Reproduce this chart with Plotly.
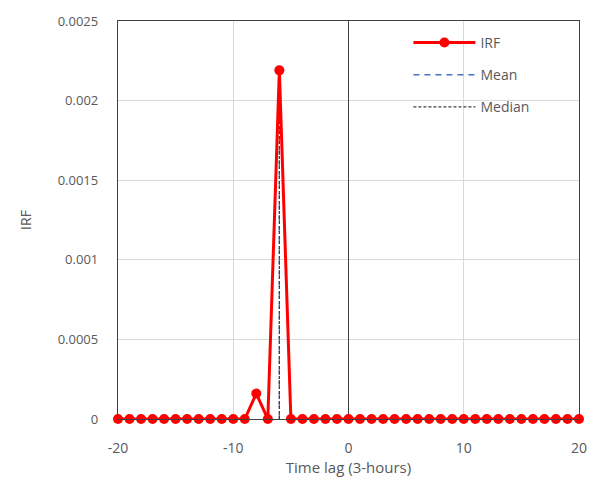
import plotly.graph_objects as go

lags = list(range(-20, 21))
irf = [0.0] * 41
irf[lags.index(-8)] = 0.00016
irf[lags.index(-6)] = 0.00219
mean_lag = -6.0
median_lag = -6.0
peak = max(irf)
x_ticks = [-20, -10, 0, 10, 20]
x_labels = ["-20", "-10", "0", "10", "20"]
y_ticks = [0, 0.0005, 0.001, 0.0015, 0.002, 0.0025]
y_labels = ["0", "0.0005", "0.001", "0.0015", "0.002", "0.0025"]

font = "Open Sans, Liberation Sans, sans-serif"
tc = "#595959"

fig = go.Figure()
fig.add_trace(go.Scatter(x=[mean_lag, mean_lag], y=[0, peak], mode="lines",
                         line=dict(color="#4472C4", width=1.3, dash="6px,5px"), name="Mean",
                         legendrank=2, legendgroup="b"))
fig.add_trace(go.Scatter(x=[median_lag, median_lag], y=[0, peak], mode="lines",
                         line=dict(color="#404040", width=1.3, dash="3px,2px"), name="Median",
                         legendrank=3, legendgroup="c"))
fig.add_trace(go.Scatter(x=lags, y=irf, mode="lines+markers", cliponaxis=False,
                         line=dict(color="#FF0000", width=3),
                         marker=dict(color="#FF0000", size=10), name="IRF",
                         legendrank=1, legendgroup="a"))

fig.update_layout(
    width=599, height=486,
    margin=dict(l=118, r=18, t=15, b=67),
    paper_bgcolor="white", plot_bgcolor="white",
    font=dict(family=font, size=13, color=tc),
    showlegend=True,
    legend=dict(x=0.63, y=0.985, xanchor="left", yanchor="top",
                bgcolor="rgba(0,0,0,0)", traceorder="grouped", tracegroupgap=11,
                itemwidth=62,
                font=dict(size=14, color=tc)),
    xaxis=dict(range=[-20, 20], tickvals=x_ticks, ticktext=x_labels,
               showgrid=True, gridcolor="#D9D9D9", gridwidth=1,
               zeroline=True, zerolinecolor="#404040", zerolinewidth=1.3,
               showline=True, linecolor="#404040", linewidth=1.3, mirror=True,
               ticks="", ticklabelstandoff=16,
               title=dict(text="Time lag (3-hours)", font=dict(size=15, color=tc), standoff=6),
               tickfont=dict(size=14, color=tc)),
    yaxis=dict(range=[0, 0.0025], tickvals=y_ticks, ticktext=y_labels,
               showgrid=True, gridcolor="#D9D9D9", gridwidth=1,
               zeroline=False,
               showline=True, linecolor="#404040", linewidth=1.3, mirror=True,
               ticks="", ticklabelstandoff=16,
               title=dict(text="IRF", font=dict(size=14, color=tc), standoff=22),
               tickfont=dict(size=13, color=tc)),
)
fig.write_html("out.html")
